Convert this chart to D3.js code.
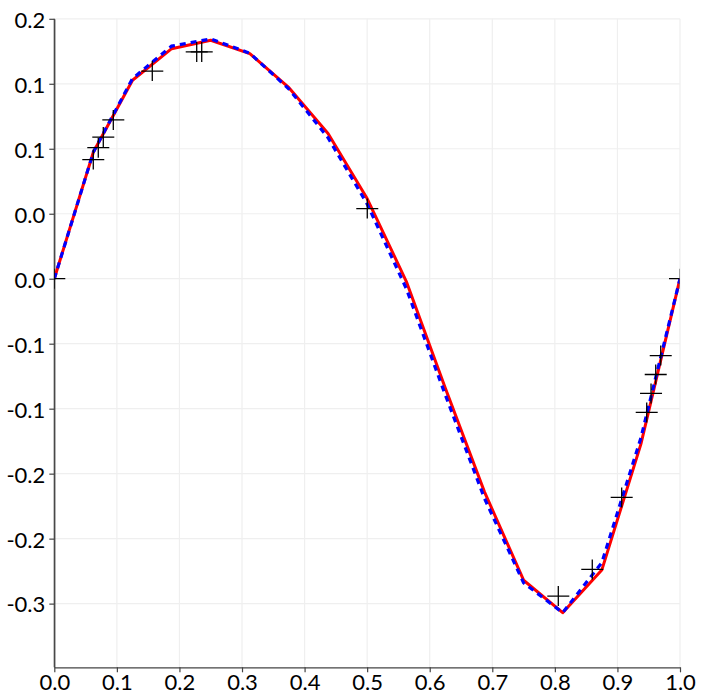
<!DOCTYPE html>
<html>
<head>
<meta charset="utf-8">
<script src="https://cdn.jsdelivr.net/npm/d3@7"></script>
<style>
  html, body { margin: 0; padding: 0; background: #fff; }
  svg { display: block; }
  text { font-family: Lato, "Open Sans", sans-serif; }
</style>
</head>
<body>
<script>
// ---- data ----
const lineX = [0, 0.0625, 0.125, 0.1875, 0.25, 0.3125, 0.375, 0.4375, 0.5, 0.5625, 0.625, 0.6875, 0.75, 0.8125, 0.875, 0.9375, 1.0];
const redY  = [0, 0.0975, 0.1527, 0.1770, 0.1835, 0.1732, 0.1470, 0.1117, 0.0617, -0.0020, -0.0842, -0.1640, -0.2320, -0.2570, -0.2242, -0.1273, 0];
const blueY = [0, 0.0975, 0.1540, 0.1790, 0.1845, 0.1735, 0.1460, 0.1085, 0.0575, -0.0075, -0.0895, -0.1690, -0.2340, -0.2570, -0.2185, -0.1225, 0];
const markX = [0, 0.0623, 0.0703, 0.0783, 0.0943, 0.1566, 0.2276, 0.2356, 0.5002, 0.8055, 0.8598, 0.9068, 0.9468, 0.9537, 0.9612, 0.9692, 1.0];
const markY = [0, 0.0917, 0.1008, 0.1090, 0.1222, 0.1598, 0.1745, 0.1745, 0.0540, -0.2442, -0.2237, -0.1683, -0.1029, -0.0883, -0.0737, -0.0591, 0];
const xTicks = [0, 0.1, 0.2, 0.3, 0.4, 0.5, 0.6, 0.7, 0.8, 0.9, 1.0];
const xTickLabels = ["0.0", "0.1", "0.2", "0.3", "0.4", "0.5", "0.6", "0.7", "0.8", "0.9", "1.0"];
const yTicks = [0.2, 0.15, 0.1, 0.05, 0, -0.05, -0.1, -0.15, -0.2, -0.25];
const yTickLabels = ["0.2", "0.1", "0.1", "0.0", "0.0", "-0.1", "-0.1", "-0.2", "-0.2", "-0.3"];

// ---- layout ----
const W = 701, H = 700;
const pL = 54.3, pR = 680, pT = 18.8, pB = 667.3;

const x = d3.scaleLinear().domain([0, 1]).range([pL, pR]);
const y = d3.scaleLinear().domain([-0.299, 0.2]).range([pB, pT]);

const svg = d3.select("body").append("svg").attr("width", W).attr("height", H);

svg.append("defs").append("clipPath").attr("id", "plotclip")
  .append("rect").attr("x", pL).attr("y", pT - 2).attr("width", pR - pL - 0.5).attr("height", pB - pT + 2);

// grid
const grid = svg.append("g");
grid.selectAll("line.vg").data(xTicks.slice(1)).join("line")
  .attr("x1", d => x(d)).attr("x2", d => x(d)).attr("y1", pT).attr("y2", pB)
  .attr("stroke", "#efefef").attr("stroke-width", 1.2);
grid.selectAll("line.hg").data(yTicks).join("line")
  .attr("x1", pL).attr("x2", pR).attr("y1", d => y(d)).attr("y2", d => y(d))
  .attr("stroke", "#efefef").attr("stroke-width", 1.2);

// axes
const xAxis = d3.axisBottom(x).tickValues(xTicks).tickFormat((d, i) => xTickLabels[i]).tickSize(5).tickPadding(3).tickSizeOuter(0);
const yAxis = d3.axisLeft(y).tickValues(yTicks).tickFormat((d, i) => yTickLabels[i]).tickSize(5).tickPadding(4).tickSizeOuter(0);

const gx = svg.append("g").attr("transform", `translate(0,${pB})`).call(xAxis);
const gy = svg.append("g").attr("transform", `translate(${pL},0)`).call(yAxis);
[gx, gy].forEach(g => {
  g.select(".domain").attr("stroke", "#444").attr("stroke-width", 1.2);
  g.selectAll(".tick line").attr("stroke", "#444").attr("stroke-width", 1.2);
  g.selectAll(".tick text").attr("fill", "#000").attr("font-size", 22).attr("font-weight", 400)
    .attr("font-family", "Lato, 'Open Sans', sans-serif");
});
gy.append("line").attr("x1", 0).attr("x2", 0).attr("y1", pT).attr("y2", pB).attr("stroke", "#444").attr("stroke-width", 1.2);
gx.selectAll(".tick text").attr("dy", "0.68em");
gy.selectAll(".tick text").attr("dy", "0.38em");

// lines
const plot = svg.append("g").attr("clip-path", "url(#plotclip)");
const redData = lineX.map((d, i) => [d, redY[i]]);
const blueData = lineX.map((d, i) => [d, blueY[i]]);
const lineGen = d3.line().x(d => x(d[0])).y(d => y(d[1]));

plot.append("path").datum(redData).attr("d", lineGen)
  .attr("fill", "none").attr("stroke", "#ff0000").attr("stroke-width", 3).attr("stroke-linejoin", "round");
plot.append("path").datum(blueData).attr("d", lineGen)
  .attr("fill", "none").attr("stroke", "#0000ff").attr("stroke-width", 3.2).attr("stroke-dasharray", "6,5");

// markers (+)
const marks = markX.map((d, i) => [d, markY[i]]);
const half = 11;
const mg = plot.append("g");
mg.selectAll("line.h").data(marks).join("line")
  .attr("x1", d => x(d[0]) - half).attr("x2", d => x(d[0]) + half)
  .attr("y1", d => y(d[1])).attr("y2", d => y(d[1]))
  .attr("stroke", "#000").attr("stroke-width", 1.3);
mg.selectAll("line.v").data(marks).join("line")
  .attr("x1", d => x(d[0])).attr("x2", d => x(d[0]))
  .attr("y1", d => y(d[1]) - 10).attr("y2", d => y(d[1]) + 10)
  .attr("stroke", "#000").attr("stroke-width", 1.3);
</script>
</body>
</html>
